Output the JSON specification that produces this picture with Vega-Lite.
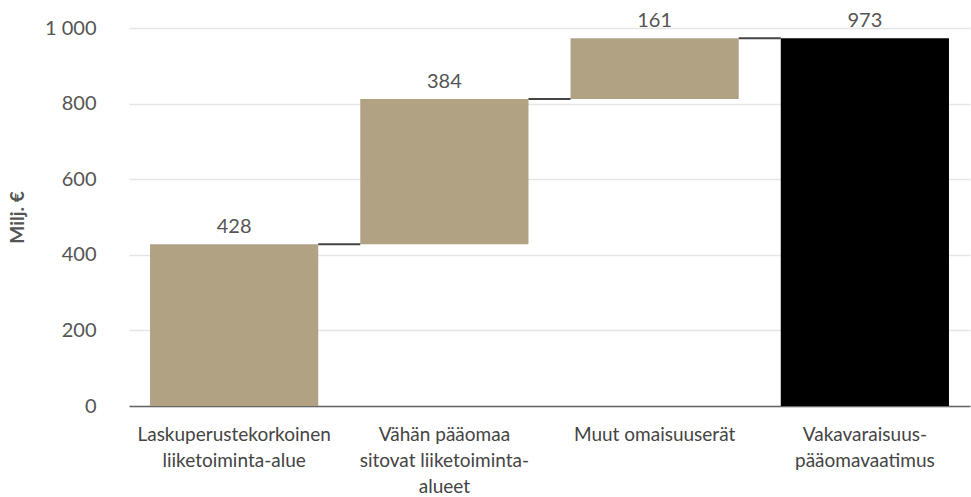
{
  "$schema": "https://vega.github.io/schema/vega-lite/v6.json",
  "width": 841,
  "height": 378,
  "autosize": "none",
  "padding": {"left": 129, "top": 28, "right": 1, "bottom": 91},
  "background": "white",
  "config": {
    "view": {"stroke": null},
    "font": "Lato",
    "axis": {"labelFont": "Lato", "titleFont": "Lato"}
  },
  "datasets": {
    "bars": [
      {"kategoria": "Laskuperustekorkoinen liiketoiminta-alue", "alku": 0, "loppu": 428, "arvo": 428, "tyyppi": "osa"},
      {"kategoria": "Vähän pääomaa sitovat liiketoiminta-alueet", "alku": 428, "loppu": 812, "arvo": 384, "tyyppi": "osa"},
      {"kategoria": "Muut omaisuuserät", "alku": 812, "loppu": 973, "arvo": 161, "tyyppi": "osa"},
      {"kategoria": "Vakavaraisuus-pääomavaatimus", "alku": 0, "loppu": 973, "arvo": 973, "tyyppi": "summa"}
    ],
    "links": [
      {"mista": "Laskuperustekorkoinen liiketoiminta-alue", "mihin": "Vähän pääomaa sitovat liiketoiminta-alueet", "taso": 428},
      {"mista": "Vähän pääomaa sitovat liiketoiminta-alueet", "mihin": "Muut omaisuuserät", "taso": 812},
      {"mista": "Muut omaisuuserät", "mihin": "Vakavaraisuus-pääomavaatimus", "taso": 973}
    ]
  },
  "layer": [
    {
      "data": {"name": "bars"},
      "mark": {"type": "bar"},
      "encoding": {
        "x": {
          "field": "kategoria", "type": "nominal", "sort": null,
          "scale": {"paddingInner": 0.2, "paddingOuter": 0.1},
          "axis": {
            "title": null, "labelAngle": 0, "ticks": false,
            "labelFontSize": 19, "labelColor": "#444", "labelPadding": 28,
            "labelLineHeight": 26, "labelBaseline": "middle", "labelLimit": 400,
            "domainColor": "#666", "domainWidth": 1.5,
            "labelExpr": "datum.value == 'Laskuperustekorkoinen liiketoiminta-alue' ? ['Laskuperustekorkoinen', 'liiketoiminta-alue'] : datum.value == 'Vähän pääomaa sitovat liiketoiminta-alueet' ? ['Vähän pääomaa', 'sitovat liiketoiminta-', 'alueet'] : datum.value == 'Vakavaraisuus-pääomavaatimus' ? ['Vakavaraisuus-', 'pääomavaatimus'] : datum.value"
          }
        },
        "y": {
          "field": "alku", "type": "quantitative",
          "scale": {"domain": [0, 1000], "nice": false},
          "axis": {
            "title": "Milj. €", "titleFontSize": 19, "titleFontWeight": "bold", "titleColor": "#555",
            "titlePadding": 17,
            "values": [0, 200, 400, 600, 800, 1000],
            "labelFontSize": 20, "labelColor": "#555", "labelPadding": 33,
            "ticks": false, "domain": false,
            "gridColor": "#e6e6e6", "gridWidth": 1.5,
            "labelExpr": "replace(format(datum.value, ','), ',', ' ')"
          }
        },
        "y2": {"field": "loppu"},
        "color": {
          "field": "tyyppi", "type": "nominal",
          "scale": {"domain": ["osa", "summa"], "range": ["#b1a283", "#000000"]},
          "legend": null
        }
      }
    },
    {
      "data": {"name": "bars"},
      "mark": {"type": "text", "baseline": "bottom", "dy": -7, "fontSize": 20, "color": "#555"},
      "encoding": {
        "x": {"field": "kategoria", "type": "nominal", "sort": null},
        "y": {"field": "loppu", "type": "quantitative"},
        "text": {"field": "arvo", "type": "quantitative"}
      }
    },
    {
      "data": {"name": "links"},
      "mark": {"type": "rule", "color": "#444", "strokeWidth": 2},
      "encoding": {
        "x": {"field": "mista", "type": "nominal", "sort": null, "bandPosition": 1},
        "x2": {"field": "mihin", "bandPosition": 0},
        "y": {"field": "taso", "type": "quantitative"}
      }
    }
  ]
}
